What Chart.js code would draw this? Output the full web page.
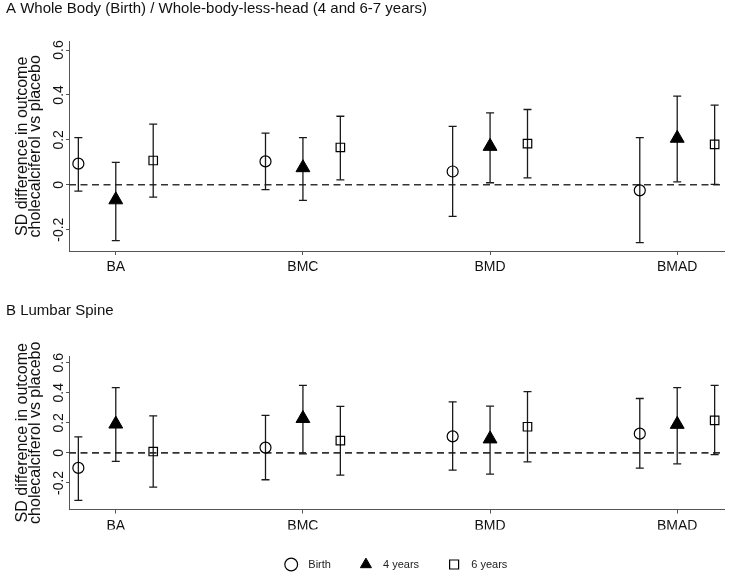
<!DOCTYPE html>
<html>
<head>
<meta charset="utf-8">
<script src="https://cdn.jsdelivr.net/npm/chart.js@4.4.0/dist/chart.umd.min.js"></script>
<style>
  html, body { margin: 0; padding: 0; background: #fff; overflow: hidden; }
  canvas { position: absolute; left: 0; }
  #chartA { top: 0; }
  #chartB { top: 302px; }
</style>
</head>
<body>
<canvas id="chartA" width="733" height="290"></canvas>
<canvas id="chartB" width="733" height="278"></canvas>
<script>
const categories = ['BA', 'BMC', 'BMD', 'BMAD'];
const groups = ['Birth', '4 years', '6 years'];
const yTicks = [-0.2, 0, 0.2, 0.4, 0.6];

// A: whole body (birth) / whole-body-less-head
const wbBirth   = [0.094, 0.104, 0.059, -0.025];
const wbBirthLo = [-0.028, -0.022, -0.141, -0.258];
const wbBirthHi = [0.21, 0.23, 0.26, 0.21];
const wb4y      = [-0.067, 0.076, 0.171, 0.207];
const wb4yLo    = [-0.249, -0.07, 0.009, 0.013];
const wb4yHi    = [0.10, 0.21, 0.32, 0.395];
const wb6y      = [0.108, 0.166, 0.183, 0.18];
const wb6yLo    = [-0.055, 0.022, 0.031, 0.002];
const wb6yHi    = [0.27, 0.305, 0.335, 0.355];

// B: lumbar spine
const lsBirth   = [-0.10, 0.035, 0.11, 0.128];
const lsBirthLo = [-0.316, -0.179, -0.115, -0.102];
const lsBirthHi = [0.106, 0.25, 0.34, 0.362];
const ls4y      = [0.192, 0.229, 0.093, 0.19];
const ls4yLo    = [-0.056, -0.007, -0.141, -0.073];
const ls4yHi    = [0.434, 0.45, 0.311, 0.434];
const ls6y      = [0.009, 0.081, 0.174, 0.216];
const ls6yLo    = [-0.228, -0.148, -0.06, -0.011];
const ls6yHi    = [0.247, 0.309, 0.408, 0.45];

Chart.defaults.font.family = '"Liberation Sans", Arial, Helvetica, sans-serif';
Chart.defaults.color = '#1a1a1a';

const xMin = 0.75, xMax = 4.25;
const shift = [-0.2, 0, 0.2];
const markerStyle = [
  { pointStyle: 'circle', pointRadius: 5.5, backgroundColor: 'rgba(0,0,0,0)', borderWidth: 1.2 },
  { pointStyle: 'triangle', pointRadius: 8, backgroundColor: '#000', borderWidth: 1 },
  { pointStyle: 'rect', pointRadius: 6, backgroundColor: 'rgba(0,0,0,0)', borderWidth: 1.2 }
];
const axisColor = '#555';

function buildChart(id, title, est, lo, hi, yMin, yMax, opts) {
  const datasets = [];

  // point estimates
  groups.forEach((g, k) => {
    datasets.push(Object.assign({
      label: g,
      data: categories.map((c, i) => ({ x: i + 1 + shift[k], y: est[k][i] })),
      borderColor: '#000',
      pointHoverRadius: markerStyle[k].pointRadius,
      order: 0
    }, markerStyle[k]));
  });

  // whisker lines and caps
  const whisk = [], caps = [];
  groups.forEach((g, k) => {
    categories.forEach((c, i) => {
      const x = i + 1 + shift[k];
      whisk.push({ x: x, y: lo[k][i] }, { x: x, y: hi[k][i] }, { x: x, y: null });
      caps.push({ x: x, y: lo[k][i] }, { x: x, y: hi[k][i] });
    });
  });
  datasets.push({
    label: 'ci', data: whisk, showLine: true, spanGaps: false,
    borderColor: '#1a1a1a', borderWidth: 1.3, pointRadius: 0, order: 2
  });
  datasets.push({
    label: 'caps', data: caps, pointStyle: 'line', pointRadius: 4,
    borderColor: '#1a1a1a', borderWidth: 1.3, order: 1
  });

  // zero reference
  datasets.push({
    label: 'zero', data: [{ x: xMin, y: 0 }, { x: xMax, y: 0 }], showLine: true,
    borderColor: '#333', borderWidth: 1.6, borderDash: [7, 4.5], pointRadius: 0, order: 3
  });

  return new Chart(document.getElementById(id), {
    type: 'scatter',
    data: { datasets: datasets },
    options: {
      responsive: false,
      animation: false,
      events: [],
      layout: { padding: { left: 6, right: 4, top: 0, bottom: 0 } },
      plugins: {
        tooltip: { enabled: false },
        title: {
          display: true, text: title, align: 'start', color: '#111',
          font: { size: 15, weight: 'normal' },
          padding: { top: 0, bottom: opts.titleGap }
        },
        legend: {
          display: opts.legend,
          position: 'bottom',
          fullSize: false,
          labels: {
            usePointStyle: true, boxHeight: 9, padding: 29.5,
            font: { size: 11 }, color: '#222',
            generateLabels: chart => Chart.defaults.plugins.legend.labels.generateLabels(chart)
              .filter(l => l.datasetIndex < groups.length)
              .map(l => Object.assign(l, { text: '  ' + l.text }))
          }
        }
      },
      scales: {
        x: {
          type: 'linear', min: xMin, max: xMax,
          afterBuildTicks: s => { s.ticks = categories.map((c, i) => ({ value: i + 1 })); },
          afterFit: s => { s.height = opts.xHeight; },
          ticks: {
            autoSkip: false, maxRotation: 0, padding: 4, color: '#111',
            font: { size: 14 },
            callback: v => categories[v - 1]
          },
          grid: { drawOnChartArea: false, drawTicks: true, tickLength: 4, color: axisColor },
          border: { color: axisColor, width: 1 }
        },
        y: {
          min: yMin, max: yMax,
          afterBuildTicks: s => { s.ticks = yTicks.map(v => ({ value: v })); },
          afterFit: s => { s.width = 63; },
          ticks: {
            minRotation: 90, maxRotation: 90, crossAlign: 'center', padding: -5,
            color: '#111', font: { size: 14 },
            callback: v => (v === 0 ? '0' : v.toFixed(1))
          },
          grid: { drawOnChartArea: false, drawTicks: true, tickLength: 3, color: axisColor },
          border: { color: axisColor, width: 1 },
          title: {
            display: true,
            text: ['SD difference in outcome', 'cholecalciferol vs placebo'],
            color: '#111',
            font: { size: 16, lineHeight: '13px' },
            padding: { top: 10, bottom: 0 }
          }
        }
      }
    }
  });
}

buildChart('chartA', 'A Whole Body (Birth) / Whole-body-less-head (4 and 6-7 years)',
  [wbBirth, wb4y, wb6y], [wbBirthLo, wb4yLo, wb6yLo], [wbBirthHi, wb4yHi, wb6yHi],
  -0.295, 0.637, { legend: false, titleGap: 23.7, xHeight: 39 });

buildChart('chartB', 'B Lumbar Spine',
  [lsBirth, ls4y, ls6y], [lsBirthLo, ls4yLo, ls6yLo], [lsBirthHi, ls4yHi, ls6yHi],
  -0.377, 0.645, { legend: true, titleGap: 36, xHeight: 20 });
</script>
</body>
</html>
